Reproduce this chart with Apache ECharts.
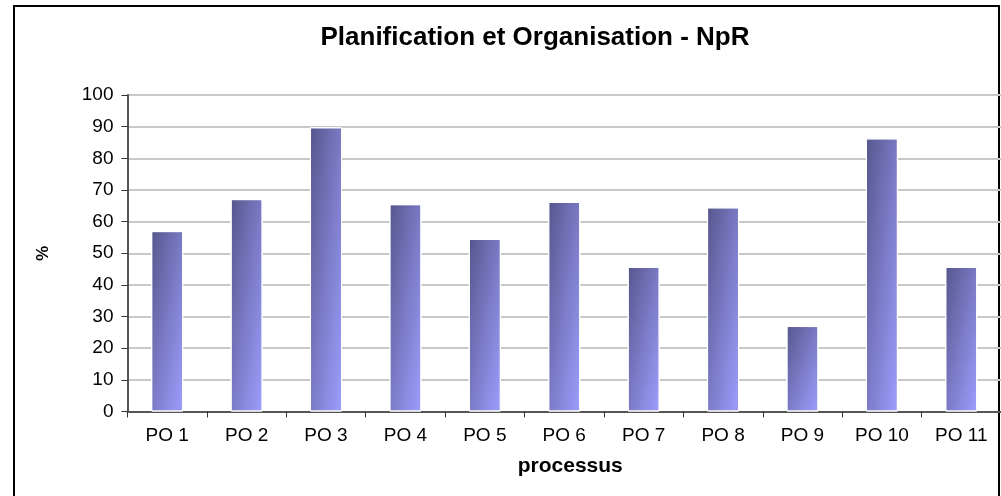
<!DOCTYPE html>
<html>
<head>
<meta charset="utf-8">
<style>
  html, body { margin: 0; padding: 0; background: #fff; }
  #chart { width: 1001px; height: 496px; }
</style>
<script src="https://cdn.jsdelivr.net/npm/echarts@6/dist/echarts.min.js"></script>
</head>
<body>
<div id="chart"></div>
<script>
// catégories et valeurs (%)
const categories = ['PO 1', 'PO 2', 'PO 3', 'PO 4', 'PO 5', 'PO 6', 'PO 7', 'PO 8', 'PO 9', 'PO 10', 'PO 11']
const values = [57, 67.1, 89.8, 65.5, 54.5, 66.2, 45.7, 64.5, 27, 86.3, 45.7]
const yTicks = [0, 10, 20, 30, 40, 50, 60, 70, 80, 90, 100]

const BAR_W = 32

const chart = echarts.init(document.getElementById('chart'))

chart.setOption({
  animation: false,
  backgroundColor: '#fff',
  title: {
    text: 'Planification et Organisation - NpR',
    left: 530,
    top: 20,
    textAlign: 'center',
    textStyle: {
      fontFamily: 'Liberation Sans',
      fontWeight: 'bold',
      fontSize: 26,
      color: '#000'
    }
  },
  graphic: [
    {
      type: 'rect',
      shape: { x: 14, y: 6, width: 985, height: 500 },
      style: { fill: 'none', stroke: '#000', lineWidth: 2 },
      silent: true
    }
  ],
  grid: {
    left: 127.5,
    top: 95,
    width: 877,
    height: 316.5
  },
  xAxis: {
    type: 'category',
    data: categories,
    name: 'processus',
    nameLocation: 'middle',
    nameGap: 44,
    nameTextStyle: {
      fontFamily: 'Liberation Sans',
      fontWeight: 'bold',
      fontSize: 21,
      color: '#000',
      padding: [0, 0, 0, 12]
    },
    axisLine: { lineStyle: { color: '#555', width: 2 } },
    axisTick: { show: true, length: 6, lineStyle: { color: '#333' } },
    axisLabel: {
      margin: 15,
      fontFamily: 'Liberation Sans',
      fontSize: 19,
      color: '#000'
    }
  },
  yAxis: {
    type: 'value',
    min: yTicks[0],
    max: yTicks[yTicks.length - 1],
    interval: 10,
    name: '%',
    nameLocation: 'middle',
    nameRotate: -90,
    nameGap: 78,
    nameTextStyle: {
      fontFamily: 'Liberation Sans',
      fontWeight: 'bold',
      fontSize: 17,
      color: '#000'
    },
    axisLine: { show: true, lineStyle: { color: '#555', width: 2 } },
    axisTick: { show: true, length: 6, lineStyle: { color: '#333' } },
    axisLabel: {
      margin: 14,
      fontFamily: 'Liberation Sans',
      fontSize: 19,
      color: '#000'
    },
    splitLine: { lineStyle: { color: '#c8c8c8', width: 2 } }
  },
  series: [
    {
      type: 'bar',
      data: values,
      barWidth: BAR_W,
      itemStyle: {
        color: '#7878c8',
        borderColor: '#fff',
        borderWidth: 1
      }
    }
  ]
})

// dégradé diagonal comme Excel : les coins haut-droit et bas-gauche ont la même teinte
const y0 = chart.convertToPixel({ yAxisIndex: 0 }, 0)
const styled = values.map(v => {
  const h = Math.max(1, y0 - chart.convertToPixel({ yAxisIndex: 0 }, v))
  const w = BAR_W
  const x2 = 2 * h * h / (h * h + w * w)
  const y2 = 2 * w * w / (h * h + w * w)
  return {
    value: v,
    itemStyle: {
      color: new echarts.graphic.LinearGradient(0, 0, x2, y2, [
        { offset: 0, color: '#56568c' },
        { offset: 1, color: '#9e9eff' }
      ])
    }
  }
})
chart.setOption({ series: [{ data: styled }] })
</script>
</body>
</html>
